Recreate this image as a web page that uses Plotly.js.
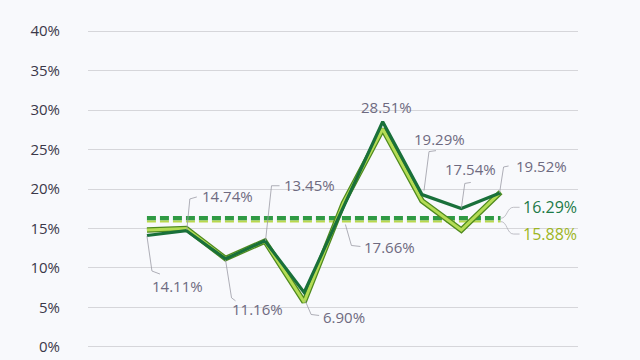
<!DOCTYPE html>
<html>
<head>
<meta charset="utf-8">
<script src="https://cdn.plot.ly/plotly-3.0.1.min.js"></script>
<style>html,body{margin:0;padding:0;background:#f8f9fc;}#chart{width:640px;height:360px;}</style>
</head>
<body>
<div id="chart"></div>
<script>
// ---- data ----
var periods = [1, 2, 3, 4, 5, 6, 7, 8, 9, 10];
var seriesDark = [14.11, 14.74, 11.16, 13.45, 6.90, 17.66, 28.51, 19.29, 17.54, 19.52];
var seriesLight = [14.8, 15.0, 11.2, 13.4, 5.7, 18.2, 27.6, 18.5, 14.8, 19.6];
var avgDark = 16.29;
var avgLight = 15.88;
var yTickVals = [0, 5, 10, 15, 20, 25, 30, 35, 40];
var yTickText = ['0%', '5%', '10%', '15%', '20%', '25%', '30%', '35%', '40%'];

// ---- label placement (pixel offsets relative to each point; up is positive) ----
var labelShift = [[31,-50.5],[41.6,34.6],[32,-50],[44.7,55.7],[40,-24.5],[45.8,-39.5],[3.4,15],[17,55.6],[9.5,39.4],[41,26.8]];
var leaders = [
  [[0,-0.5],[5,-35.5],[13,-38.5]],
  [[0.6,0.6],[3.6,31.6],[10.6,33.6]],
  [[0,-1],[6,-39],[10,-42]],
  [[0.7,0],[6.7,55],[14.7,55]],
  [[1,-8],[7,-22],[15,-23]],
  [[2,-17],[8,-38],[17,-39]],
  null,
  [[2,4],[7,43],[14,44]],
  [[0,0],[3.5,25],[9.5,26]],
  [[-1,0],[3,25.8],[8,26.8]]
];

var xIdx = periods.map(function(p, i){ return i; });
var lastX = xIdx[xIdx.length - 1];

var traces = [
  {x: xIdx, y: xIdx.map(function(){return avgDark;}), mode:'lines', line:{color:'#2f9a44', width:4.5, dash:'9px,4px'}, hoverinfo:'skip'},
  {x: xIdx, y: xIdx.map(function(){return avgLight;}), mode:'lines', line:{color:'#b9d84c', width:2, dash:'9px,4px'}, hoverinfo:'skip'},
  {x: xIdx, y: seriesLight, mode:'lines', line:{color:'#4f8a1e', width:5.5}, hoverinfo:'skip'},
  {x: xIdx, y: seriesLight, mode:'lines', line:{color:'#b4dc55', width:3}, hoverinfo:'skip'},
  {x: xIdx, y: seriesDark, mode:'lines', line:{color:'#19703a', width:3.2}, hoverinfo:'skip'}
];

var labelFont = {family:'Open Sans, sans-serif', size:15, color:'#6e6a80'};
var annotations = [];
var shapes = [];
seriesDark.forEach(function(v, i){
  annotations.push({x:i, y:v, xref:'x', yref:'y', text: v.toFixed(2) + '%', showarrow:false,
    xshift: labelShift[i][0], yshift: labelShift[i][1], font: labelFont});
  var L = leaders[i];
  if (L) {
    var p = 'M ' + L.map(function(q){return q[0] + ' ' + q[1];}).join(' L ');
    shapes.push({type:'path', xref:'x', yref:'y', xsizemode:'pixel', ysizemode:'pixel',
      xanchor:i, yanchor:v, path:p, line:{color:'#9a9aa4', width:0.8}});
  }
});
annotations.push({x:lastX, y:avgDark, xref:'x', yref:'y', text: avgDark.toFixed(2) + '%', showarrow:false,
  xshift:49, yshift:11.3, font:{family:'Open Sans, sans-serif', size:16, color:'#1d7a48'}});
annotations.push({x:lastX, y:avgLight, xref:'x', yref:'y', text: avgLight.toFixed(2) + '%', showarrow:false,
  xshift:49, yshift:-12.5, font:{family:'Open Sans, sans-serif', size:16, color:'#9db523'}});
shapes.push({type:'path', xref:'x', yref:'y', xsizemode:'pixel', ysizemode:'pixel', xanchor:lastX, yanchor:avgDark,
  path:'M 0 0 C 7 0 6 11 13 11 L 19 11', line:{color:'#b0b0b8', width:0.8}});
shapes.push({type:'path', xref:'x', yref:'y', xsizemode:'pixel', ysizemode:'pixel', xanchor:lastX, yanchor:avgLight,
  path:'M 0 0 C 7 0 6 -12.5 13 -12.5 L 19 -12.5', line:{color:'#b0b0b8', width:0.8}});

var layout = {
  width:640, height:360,
  margin:{l:88, r:62, t:30, b:12},
  paper_bgcolor:'#f8f9fc', plot_bgcolor:'#f8f9fc',
  showlegend:false,
  xaxis:{range:[-1.5, 10.97], showgrid:false, zeroline:false, showticklabels:false, showline:false, fixedrange:true},
  yaxis:{range:[-0.13, 40.13], tickvals:yTickVals, ticktext:yTickText, showgrid:true, gridcolor:'#d6d6da', gridwidth:1,
    zeroline:false, showline:false, ticks:'', ticklabelstandoff:27,
    tickfont:{family:'Open Sans, sans-serif', size:15, color:'#3b3849'}, fixedrange:true},
  annotations: annotations,
  shapes: shapes
};
Plotly.newPlot('chart', traces, layout, {displayModeBar:false, staticPlot:true});
</script>
</body>
</html>
